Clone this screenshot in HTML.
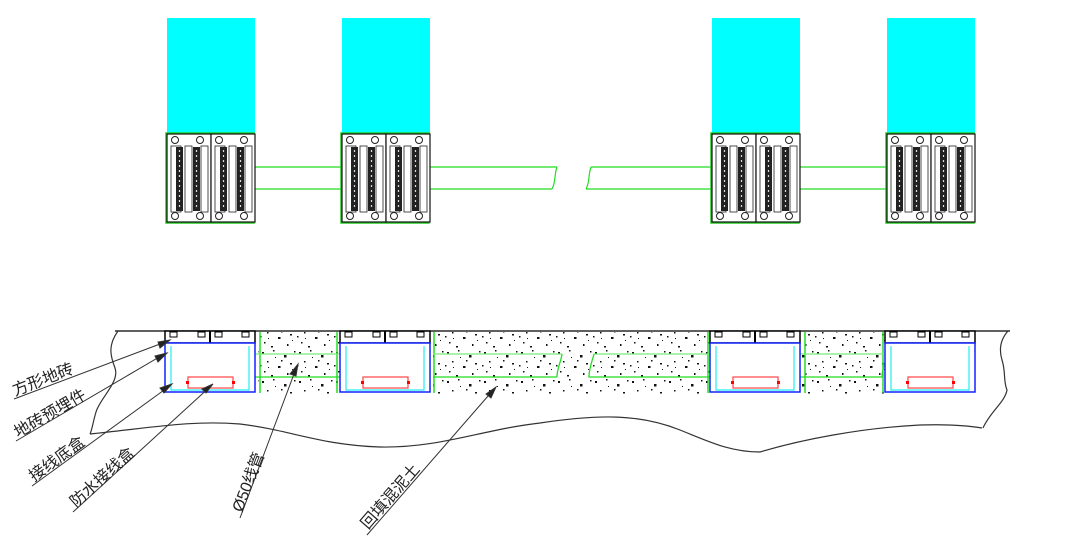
<!DOCTYPE html>
<html><head><meta charset="utf-8"><style>
html,body{margin:0;padding:0;background:#fff;width:1080px;height:543px;overflow:hidden}
svg{display:block}
text{font-family:"Liberation Sans","Noto Sans CJK SC",sans-serif;font-size:16px;fill:#222}
</style></head><body>
<svg width="1080" height="543" viewBox="0 0 1080 543" xmlns="http://www.w3.org/2000/svg">
<defs>
<pattern id="conc" width="37" height="29" patternUnits="userSpaceOnUse">
<rect width="37" height="29" fill="#fff"/>
<g fill="#111">
<rect x="3" y="4" width="2" height="2"/><rect x="14" y="2" width="1.5" height="1.5"/><rect x="25" y="7" width="2.5" height="2.5"/>
<rect x="8" y="13" width="1.5" height="1.5"/><rect x="31" y="15" width="2" height="1.5"/><rect x="19" y="18" width="2.5" height="2"/>
<rect x="5" y="23" width="1.5" height="1.5"/><rect x="28" y="25" width="1.5" height="2"/><rect x="12" y="27" width="2" height="1.5"/>
<rect x="35" y="3" width="1.5" height="1.5"/><rect x="22" y="12" width="1.5" height="1.5"/><rect x="1" y="17" width="1.5" height="1.5"/>
<rect x="16" y="9" width="1" height="1"/><rect x="33" y="21" width="1" height="1"/><rect x="9" y="19" width="1" height="1"/>
</g>
</pattern>
<g id="sub">
<rect x="0" y="0" width="44" height="88" fill="#fff" stroke="#111" stroke-width="1.2"/>
<rect x="4" y="12" width="10" height="66" fill="#fff" stroke="#222" stroke-width="0.8"/>
<rect x="9" y="13" width="7" height="64" fill="#222"/>
<rect x="18" y="12" width="7" height="66" fill="#fff" stroke="#222" stroke-width="0.8"/>
<rect x="26" y="13" width="7" height="64" fill="#222"/>
<rect x="34" y="12" width="7" height="66" fill="#fff" stroke="#222" stroke-width="0.8"/>
<g stroke="#ddd" stroke-width="1.2" stroke-dasharray="2 3"><line x1="12.5" y1="16" x2="12.5" y2="74"/><line x1="29.5" y1="16" x2="29.5" y2="74"/></g>
<circle cx="8" cy="6" r="3.5" fill="#fff" stroke="#222"/><circle cx="33" cy="6" r="3.5" fill="#fff" stroke="#222"/>
<circle cx="8" cy="82" r="3.5" fill="#fff" stroke="#222"/><circle cx="33" cy="82" r="3.5" fill="#fff" stroke="#222"/>
</g>
<g id="mod">
<rect x="0" y="0" width="88" height="90" fill="#fff" stroke="#2c2" stroke-width="1.5"/>
<use href="#sub" x="1" y="1"/><use href="#sub" x="45" y="1"/>
</g>
<g id="box">
<rect x="0" y="0" width="90" height="12" fill="#fff" stroke="#000" stroke-width="1.5"/>
<rect x="44" y="0" width="2" height="12" fill="#000"/>
<g fill="#fff" stroke="#000" stroke-width="1"><rect x="5" y="1" width="7" height="5"/><rect x="33" y="1" width="7" height="5"/><rect x="50" y="1" width="7" height="5"/><rect x="77" y="1" width="7" height="5"/></g>
<rect x="0" y="12" width="90" height="49" fill="#fff" stroke="#12f" stroke-width="1.5"/>
<polyline points="6,15 6,59 84,59 84,15" fill="none" stroke="#2ee" stroke-width="1.2"/>
<rect x="23" y="46" width="45" height="11" fill="#fff" stroke="#f44" stroke-width="1.2"/>
<rect x="21" y="50" width="3" height="3" fill="#f00"/><rect x="67" y="50" width="3" height="3" fill="#f00"/>
</g>
</defs>

<g fill="#0ff">
<rect x="167" y="18" width="88" height="115"/><rect x="342" y="18" width="88" height="115"/>
<rect x="712" y="18" width="88" height="115"/><rect x="887" y="18" width="88" height="115"/>
</g>
<g stroke="#2d2" stroke-width="1.2" fill="none">
<line x1="255" y1="167" x2="342" y2="167"/><line x1="255" y1="189" x2="342" y2="189"/>
<line x1="430" y1="167" x2="557" y2="167"/><line x1="430" y1="189" x2="552" y2="189"/>
<path d="M557 167 C554 175 556 182 552 189"/>
<line x1="591" y1="167" x2="712" y2="167"/><line x1="586" y1="189" x2="712" y2="189"/>
<path d="M591 167 C588 175 590 182 586 189"/>
<line x1="800" y1="167" x2="887" y2="167"/><line x1="800" y1="189" x2="887" y2="189"/>
</g>
<use href="#mod" x="166" y="133"/><use href="#mod" x="341" y="133"/>
<use href="#mod" x="711" y="133"/><use href="#mod" x="886" y="133"/>

<g fill="url(#conc)">
<rect x="258" y="332" width="83" height="62"/>
<rect x="433" y="332" width="278" height="62"/>
<rect x="802" y="332" width="84" height="62"/>
</g>
<line x1="115" y1="331" x2="1010" y2="331" stroke="#000" stroke-width="1.2"/>
<g stroke="#2d2" stroke-width="1.5">
<line x1="260" y1="332" x2="260" y2="393"/><line x1="337" y1="332" x2="337" y2="393"/>
<line x1="434" y1="332" x2="434" y2="393"/><line x1="708" y1="332" x2="708" y2="393"/>
<line x1="805" y1="332" x2="805" y2="393"/><line x1="883" y1="332" x2="883" y2="393"/>
</g>
<g fill="none" stroke-width="1.3">
<g stroke="#7e7">
<path d="M243 354 H346 M433 354 H562 M594 354 H717 M780 354 H887"/>
</g>
<g stroke="#2d2">
<path d="M243 354 C242 362 238 366 238 377 H347 M346 354 C345 362 343 368 343 377"/>
<path d="M433 377 H557 M562 354 C561 362 557 368 557 377"/>
<path d="M594 354 C592 362 589 368 589 377 H712 M717 354 C716 362 712 368 712 377"/>
<path d="M780 354 C779 362 775 366 775 377 H882 M887 354 C886 362 882 368 882 377"/>
</g>
</g>
<use href="#box" x="165" y="331"/><use href="#box" x="340" y="331"/>
<use href="#box" x="710" y="331"/><use href="#box" x="885" y="331"/>

<g fill="none" stroke="#333" stroke-width="1.2">
<path d="M118 331 C108 345 110 355 115 368 C120 382 100 398 96 412 C93 422 92 430 90 434"/>
<path d="M90 434 C150 428 190 420 240 424 C290 430 320 445 380 447 C440 448 480 430 540 423 C600 414 640 414 680 430 C710 442 730 452 760 452 C800 440 860 428 920 425 C950 424 970 426 982 428"/>
<path d="M1008 331 C1000 340 999 350 1002 360 C1006 372 1003 380 1007 390 C1005 402 990 412 983 428"/>
</g>

<g stroke="#333" stroke-width="1" fill="#222">
<line x1="14" y1="399" x2="168" y2="341"/><polygon points="170,340 158,342 160,348"/>
<line x1="16" y1="441" x2="166" y2="353"/><polygon points="167,353 155,356 158,362"/>
<line x1="32" y1="486" x2="171" y2="385"/><polygon points="172,384 160,388 164,393"/>
<line x1="73" y1="512" x2="212" y2="385"/><polygon points="213,384 202,389 206,393"/>
<line x1="240" y1="518" x2="297" y2="366"/><polygon points="298,364 290,374 296,376"/>
<line x1="367" y1="535" x2="495" y2="388"/><polygon points="496,387 486,394 491,398"/>
</g>
<g>
<text transform="translate(15,396) rotate(-21)">方形地砖</text>
<text transform="translate(18,438) rotate(-30)">地砖预埋件</text>
<text transform="translate(34,482) rotate(-36)">接线底盒</text>
<text transform="translate(76,508) rotate(-42)">防水接线盒</text>
<text transform="translate(242,513) rotate(-69)">Ø50线管</text>
<text transform="translate(368,530) rotate(-49)">回填混泥土</text>
</g>
</svg>
</body></html>
